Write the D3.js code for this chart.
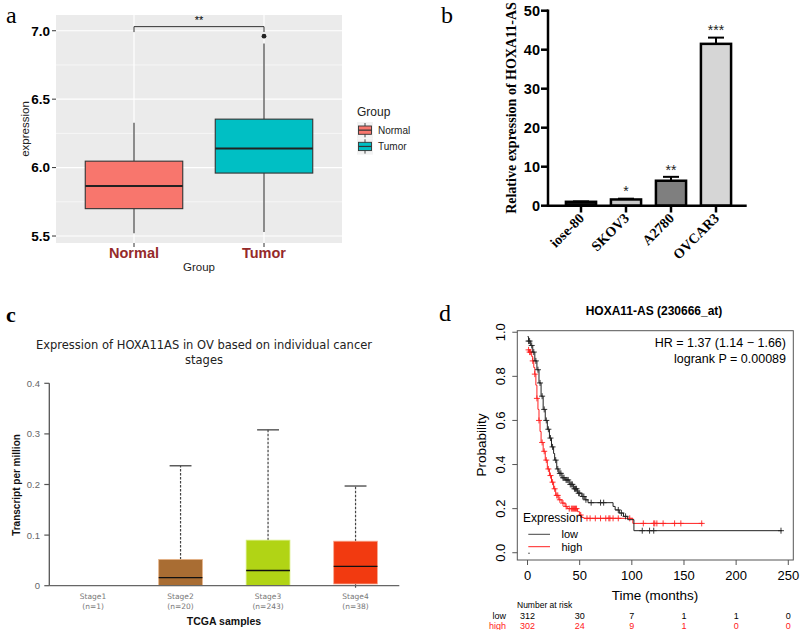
<!DOCTYPE html>
<html><head><meta charset="utf-8">
<script src="https://cdn.jsdelivr.net/npm/d3@7"></script>
<style>body{margin:0;background:#fff} svg{display:block}</style>
</head><body><svg id="fig" width="800" height="630"></svg>
<script>
// ================= DATA =================
// panel a : boxplot Normal vs Tumor
const aGroups = ["Normal", "Tumor"];
const aLower = [5.52, 5.53];
const aQ1 = [5.70, 5.96];
const aMedian = [5.865, 6.14];
const aQ3 = [6.047, 6.354];
const aUpper = [6.327, 6.906];
const aOutliers = [[], [6.96]];
const aColors = ["#F8766D", "#00BFC4"];
const aTicks = [5.5, 6.0, 6.5, 7.0];
const aMinor = [5.75, 6.25, 6.75];
const aSig = "**";

// panel b : bar chart, cell lines
const bCells = ["iose-80", "SKOV3", "A2780", "OVCAR3"];
const bMeans = [1.0, 1.6, 6.4, 41.5];
const bErrors = [0.1, 0.2, 1.0, 1.6];
const bStars = ["", "*", "**", "***"];
const bFills = ["#111111", "#c8c8c8", "#7f7f7f", "#d6d6d6"];
const bTicks = [0, 10, 20, 30, 40, 50];

// panel c : TCGA stages
const cStages = ["Stage1", "Stage2", "Stage3", "Stage4"];
const cCounts = ["(n=1)", "(n=20)", "(n=243)", "(n=38)"];
const cMin = [0, 0, 0, 0];
const cQ1 = [0, 0, 0, 0.0034];
const cMedian = [0, 0.0158, 0.030, 0.038];
const cQ3 = [0, 0.052, 0.090, 0.088];
const cMax = [0, 0.237, 0.308, 0.197];
const cColors = ["#999999", "#a96d33", "#b1d415", "#f23a10"];
const cBorders = ["#cccccc", "#e8b58a", "#d6ec7a", "#f8a890"];
const cTicks = [0, 0.1, 0.2, 0.3, 0.4];
const cTickLabels = ["0", "0.1", "0.2", "0.3", "0.4"];

// panel d : Kaplan-Meier
const kmLowTimes = [0,1,3,5,7,9,11,13,15,17,19,21,23,25,26,28,30,33,36,40,44,48,52,55,58,82,84,88,92,96,102,244];
const kmLowSurv  = [.98,.96,.94,.91,.87,.83,.77,.71,.65,.60,.56,.52,.48,.45,.42,.38,.36,.34,.33,.31,.29,.27,.255,.24,.227,.21,.194,.18,.165,.15,.10,.10];
const kmHighTimes = [0,2,4,5,6,7,8,9,10,11,12,13,15,17,19,21,23,25,27,30,33,36,38,48,50,52,54,101,168];
const kmHighSurv  = [.92,.91,.89,.87,.84,.81,.76,.70,.65,.60,.55,.50,.46,.42,.38,.35,.32,.29,.26,.24,.225,.21,.20,.186,.171,.16,.156,.133,.133];
const kmLowCensor = [1,2,4,6,8,10,12,14,16,18,20,22,24,27,29,31,32,34,35,37,38,39,41,42,43,45,46,47,49,50,53,54,56,61,70,73,87,90,94,110,117,121,243];
const kmHighCensor = [1,2,3,5,7,9,11,14,16,18,20,22,24,26,28,29,31,34,37,40,42,43,44,45,46,47,51,57,60,65,70,75,78,79,82,87,98,111,121,122,124,130,141,147,167];
const kmXTicks = [0, 50, 100, 150, 200, 250];
const kmYTicks = [0, 0.2, 0.4, 0.6, 0.8, 1.0];
const riskLow = [312, 30, 7, 1, 1, 0];
const riskHigh = [302, 24, 9, 1, 0, 0];

// ================= DRAW =================
const svg = d3.select("#fig");
const sans = "'Liberation Sans', Arial, Helvetica, sans-serif";
const serif = "'Liberation Serif', 'Times New Roman', serif";
const dejavu = "'DejaVu Sans', Verdana, sans-serif";
svg.append("rect").attr("width", 800).attr("height", 630).attr("fill", "#fff");

function label(txt, x, y, size, weight) {
  svg.append("text").attr("x", x).attr("y", y).text(txt)
    .attr("font-family", serif).attr("font-size", size).attr("font-weight", weight || "normal").attr("fill", "#000");
}
label("a", 6, 23, 24);
label("b", 441, 23, 24);
label("c", 6, 322, 22, "bold");
label("d", 439, 321, 24);

// ---------- panel a ----------
(function () {
  const g = svg.append("g");
  const L = 56, R = 342, T = 15, B = 243;
  const x = d3.scalePoint().domain(aGroups).range([L, R]).padding(0.6);
  const y = d3.scaleLinear().domain([5.449, 7.115]).range([B, T]);
  const bw = x.step() * 0.75;
  g.append("rect").attr("x", L).attr("y", T).attr("width", R - L).attr("height", B - T).attr("fill", "#ebebeb");
  g.selectAll(".mn").data(aMinor).join("line")
    .attr("x1", L).attr("x2", R).attr("y1", d => y(d)).attr("y2", d => y(d))
    .attr("stroke", "#fff").attr("stroke-width", 0.6);
  g.selectAll(".mj").data(aTicks).join("line")
    .attr("x1", L).attr("x2", R).attr("y1", d => y(d)).attr("y2", d => y(d))
    .attr("stroke", "#fff").attr("stroke-width", 1.2);
  g.selectAll(".vg").data(aGroups).join("line")
    .attr("x1", d => x(d)).attr("x2", d => x(d)).attr("y1", T).attr("y2", B)
    .attr("stroke", "#fff").attr("stroke-width", 1.2);
  aGroups.forEach((grp, i) => {
    const cx = x(grp);
    g.append("line").attr("x1", cx).attr("x2", cx).attr("y1", y(aLower[i])).attr("y2", y(aQ1[i])).attr("stroke", "#333").attr("stroke-width", 1.1);
    g.append("line").attr("x1", cx).attr("x2", cx).attr("y1", y(aQ3[i])).attr("y2", y(aUpper[i])).attr("stroke", "#333").attr("stroke-width", 1.1);
    g.append("rect").attr("x", cx - bw / 2).attr("y", y(aQ3[i])).attr("width", bw).attr("height", y(aQ1[i]) - y(aQ3[i]))
      .attr("fill", aColors[i]).attr("stroke", "#333").attr("stroke-width", 1.1);
    g.append("line").attr("x1", cx - bw / 2).attr("x2", cx + bw / 2).attr("y1", y(aMedian[i])).attr("y2", y(aMedian[i]))
      .attr("stroke", "#222").attr("stroke-width", 2);
    aOutliers[i].forEach(v => g.append("circle").attr("cx", cx).attr("cy", y(v)).attr("r", 2.4).attr("fill", "#222"));
  });
  // significance bracket
  const x1 = x(aGroups[0]), x2 = x(aGroups[1]);
  g.append("path").attr("d", `M${x1},${y(6.99)}V${y(7.03)}H${x2}V${y(6.99)}`).attr("fill", "none").attr("stroke", "#333").attr("stroke-width", 1);
  g.append("text").attr("x", (x1 + x2) / 2).attr("y", 24).attr("text-anchor", "middle").attr("font-family", sans).attr("font-size", 11).text(aSig);
  // y axis
  g.selectAll(".yt").data(aTicks).join("line").attr("x1", L - 4).attr("x2", L).attr("y1", d => y(d)).attr("y2", d => y(d)).attr("stroke", "#333");
  g.selectAll(".yl").data(aTicks).join("text").attr("x", L - 6).attr("y", d => y(d)).attr("dy", "0.36em")
    .attr("text-anchor", "end").attr("font-family", sans).attr("font-weight", "bold").attr("font-size", 13.5).attr("fill", "#000")
    .text(d => d3.format(".1f")(d));
  // x axis
  g.selectAll(".xt").data(aGroups).join("line").attr("x1", d => x(d)).attr("x2", d => x(d)).attr("y1", B).attr("y2", B + 4).attr("stroke", "#333");
  g.selectAll(".xl").data(aGroups).join("text").attr("x", d => x(d)).attr("y", 258)
    .attr("text-anchor", "middle").attr("font-family", sans).attr("font-weight", "bold").attr("font-size", 14.5).attr("fill", "#952a2a")
    .text(d => d);
  g.append("text").attr("x", (L + R) / 2).attr("y", 271).attr("text-anchor", "middle").attr("font-family", sans).attr("font-size", 11.5).attr("fill", "#222").text("Group");
  g.append("text").attr("transform", `translate(29,${(T + B) / 2}) rotate(-90)`).attr("text-anchor", "middle").attr("font-family", sans).attr("font-size", 11.5).attr("fill", "#222").text("expression");
  // legend
  g.append("text").attr("x", 357).attr("y", 116).attr("font-family", sans).attr("font-size", 12).attr("fill", "#222").text("Group");
  aGroups.forEach((grp, i) => {
    const y0 = 122 + i * 16.3;
    g.append("rect").attr("x", 357).attr("y", y0).attr("width", 16).attr("height", 16.3).attr("fill", "#f2f2f2");
    g.append("line").attr("x1", 365).attr("x2", 365).attr("y1", y0 + 1).attr("y2", y0 + 15.3).attr("stroke", "#333").attr("stroke-width", 0.9);
    g.append("rect").attr("x", 358.5).attr("y", y0 + 4).attr("width", 13).attr("height", 8.3).attr("fill", aColors[i]).attr("stroke", "#333").attr("stroke-width", 0.9);
    g.append("line").attr("x1", 358.5).attr("x2", 371.5).attr("y1", y0 + 8.15).attr("y2", y0 + 8.15).attr("stroke", "#333").attr("stroke-width", 1.2);
    g.append("text").attr("x", 378).attr("y", y0 + 8.15).attr("dy", "0.35em").attr("font-family", sans).attr("font-size", 10).attr("fill", "#222").text(grp);
  });
})();

// ---------- panel b ----------
(function () {
  const g = svg.append("g");
  const AX = 548;
  const x = d3.scaleBand().domain(bCells).range([558.5, 738.5]).paddingInner(0.33).paddingOuter(0.165);
  const y = d3.scaleLinear().domain([0, 50]).range([205.7, 10.7]);
  const bw = x.bandwidth();
  bCells.forEach((c, i) => {
    const cx = x(c) + bw / 2;
    const top = y(bMeans[i] + bErrors[i]);
    g.append("line").attr("x1", cx).attr("x2", cx).attr("y1", y(bMeans[i])).attr("y2", top).attr("stroke", "#000").attr("stroke-width", 2);
    g.append("line").attr("x1", cx - 8).attr("x2", cx + 8).attr("y1", top).attr("y2", top).attr("stroke", "#000").attr("stroke-width", 2);
    g.append("rect").attr("x", x(c)).attr("y", y(bMeans[i])).attr("width", bw).attr("height", y(0) - y(bMeans[i]))
      .attr("fill", bFills[i]).attr("stroke", "#000").attr("stroke-width", 2.5);
    if (bStars[i]) g.append("text").attr("x", cx).attr("y", top - 12).attr("dy", "0.7em").attr("text-anchor", "middle")
      .attr("font-family", sans).attr("font-size", 14).attr("fill", "#222").text(bStars[i]);
  });
  g.append("line").attr("x1", AX).attr("x2", AX).attr("y1", 9.5).attr("y2", 207).attr("stroke", "#000").attr("stroke-width", 2.5);
  g.append("line").attr("x1", AX - 1.2).attr("x2", 746.7).attr("y1", 205.7).attr("y2", 205.7).attr("stroke", "#000").attr("stroke-width", 2.5);
  g.selectAll(".yt").data(bTicks).join("line").attr("x1", AX - 7).attr("x2", AX).attr("y1", d => y(d)).attr("y2", d => y(d)).attr("stroke", "#000").attr("stroke-width", 2.5);
  g.selectAll(".yl").data(bTicks).join("text").attr("x", AX - 8).attr("y", d => y(d)).attr("dy", "0.36em").attr("text-anchor", "end")
    .attr("font-family", sans).attr("font-weight", "bold").attr("font-size", 14.5).attr("fill", "#000").text(d => d);
  g.selectAll(".xt").data(bCells).join("line").attr("x1", d => x(d) + bw / 2).attr("x2", d => x(d) + bw / 2).attr("y1", 205.7).attr("y2", 212.5).attr("stroke", "#000").attr("stroke-width", 2.5);
  g.selectAll(".xl").data(bCells).join("text")
    .attr("transform", d => `translate(${x(d) + bw / 2 + 4},${219}) rotate(-45)`).attr("text-anchor", "end")
    .attr("font-family", serif).attr("font-weight", "bold").attr("font-size", 14).attr("fill", "#000").text(d => d);
  g.append("text").attr("transform", `translate(516,108) rotate(-90)`).attr("text-anchor", "middle")
    .attr("font-family", serif).attr("font-weight", "bold").attr("font-size", 14).attr("fill", "#000").text("Relative expression of HOXA11-AS");
})();

// ---------- panel c ----------
(function () {
  const g = svg.append("g");
  const L = 49.3, R = 399.3, B = 585.7, T = 383.3;
  const x = d3.scaleBand().domain(cStages).range([L, R]).paddingInner(0.5).paddingOuter(0.25);
  const y = d3.scaleLinear().domain([0, 0.4]).range([B, T]);
  const bw = x.bandwidth();
  g.append("text").attr("x", 204).attr("y", 349).attr("text-anchor", "middle").attr("font-family", dejavu).attr("font-size", 11.5).attr("fill", "#222")
    .text("Expression of HOXA11AS in OV based on individual cancer");
  g.append("text").attr("x", 204).attr("y", 364).attr("text-anchor", "middle").attr("font-family", dejavu).attr("font-size", 11.5).attr("fill", "#222").text("stages");
  cStages.forEach((s, i) => {
    const cx = x(s) + bw / 2;
    if (cMax[i] > cQ3[i]) {
      g.append("line").attr("x1", cx).attr("x2", cx).attr("y1", y(cQ3[i])).attr("y2", y(cMax[i])).attr("stroke", "#444").attr("stroke-width", 1.2).attr("stroke-dasharray", "2.5,1.5");
      g.append("line").attr("x1", cx - bw / 4).attr("x2", cx + bw / 4).attr("y1", y(cMax[i])).attr("y2", y(cMax[i])).attr("stroke", "#444").attr("stroke-width", 1.3);
    }
    if (cQ1[i] > cMin[i]) {
      g.append("line").attr("x1", cx).attr("x2", cx).attr("y1", y(cQ1[i])).attr("y2", y(cMin[i]) + 2).attr("stroke", "#444").attr("stroke-width", 1.2);
    }
    if (cQ3[i] > cQ1[i]) {
      g.append("rect").attr("x", x(s)).attr("y", y(cQ3[i])).attr("width", bw).attr("height", y(cQ1[i]) - y(cQ3[i]))
        .attr("fill", cColors[i]).attr("stroke", cBorders[i]).attr("stroke-width", 0.8);
      g.append("line").attr("x1", x(s)).attr("x2", x(s) + bw).attr("y1", y(cMedian[i])).attr("y2", y(cMedian[i])).attr("stroke", "#111").attr("stroke-width", 1.3);
    }
    g.append("text").attr("x", cx).attr("y", 599).attr("text-anchor", "middle").attr("font-family", dejavu).attr("font-size", 7.5).attr("fill", "#777").text(s);
    g.append("text").attr("x", cx).attr("y", 608.5).attr("text-anchor", "middle").attr("font-family", dejavu).attr("font-size", 7.5).attr("fill", "#777").text(cCounts[i]);
  });
  g.append("line").attr("x1", L).attr("x2", L).attr("y1", T).attr("y2", B).attr("stroke", "#555").attr("stroke-width", 1.3);
  g.append("line").attr("x1", L).attr("x2", R).attr("y1", B).attr("y2", B).attr("stroke", "#666").attr("stroke-width", 1.3);
  g.selectAll(".yt").data(cTicks).join("line").attr("x1", L - 5).attr("x2", L).attr("y1", d => y(d)).attr("y2", d => y(d)).attr("stroke", "#555").attr("stroke-width", 1.2);
  g.selectAll(".yl").data(cTicks).join("text").attr("x", 40).attr("y", d => y(d)).attr("dy", "0.36em").attr("text-anchor", "end")
    .attr("font-family", sans).attr("font-size", 9.5).attr("fill", "#666").text((d, i) => cTickLabels[i]);
  g.append("text").attr("x", 224).attr("y", 625).attr("text-anchor", "middle").attr("font-family", sans).attr("font-weight", "bold").attr("font-size", 10.5).attr("fill", "#111").text("TCGA samples");
  g.append("text").attr("transform", `translate(20,485) rotate(-90)`).attr("text-anchor", "middle").attr("font-family", sans).attr("font-weight", "bold").attr("font-size", 10).attr("fill", "#111").text("Transcript per million");
})();

// ---------- panel d ----------
(function () {
  const g = svg.append("g");
  const L = 517.3, R = 793.3, T = 330.7, B = 560;
  const x = d3.scaleLinear().domain([-9.8, 254.8]).range([L, R]);
  const y = d3.scaleLinear().domain([-0.033, 1.007]).range([B, T]);
  g.append("text").attr("x", 654).attr("y", 315).attr("text-anchor", "middle").attr("font-family", sans).attr("font-weight", "bold").attr("font-size", 12).attr("fill", "#000").text("HOXA11-AS (230666_at)");
  g.append("rect").attr("x", L).attr("y", T).attr("width", R - L).attr("height", B - T).attr("fill", "none").attr("stroke", "#555").attr("stroke-width", 1);
  g.selectAll(".xt").data(kmXTicks).join("line").attr("x1", d => x(d)).attr("x2", d => x(d)).attr("y1", B).attr("y2", B + 5).attr("stroke", "#555");
  g.selectAll(".xl").data(kmXTicks).join("text").attr("x", d => x(d)).attr("y", 580).attr("text-anchor", "middle").attr("font-family", sans).attr("font-size", 13).attr("fill", "#000").text(d => d);
  g.selectAll(".yt").data(kmYTicks).join("line").attr("x1", L - 5).attr("x2", L).attr("y1", d => y(d)).attr("y2", d => y(d)).attr("stroke", "#555");
  g.selectAll(".yl").data(kmYTicks).join("text").attr("transform", d => `translate(505,${y(d)}) rotate(-90)`).attr("text-anchor", "middle")
    .attr("font-family", sans).attr("font-size", 13).attr("fill", "#000").text(d => d3.format(".1f")(d));
  g.append("text").attr("x", 655).attr("y", 600).attr("text-anchor", "middle").attr("font-family", sans).attr("font-size", 13.5).attr("fill", "#000").text("Time (months)");
  g.append("text").attr("transform", `translate(486,445) rotate(-90)`).attr("text-anchor", "middle").attr("font-family", sans).attr("font-size", 13.5).attr("fill", "#000").text("Probability");
  g.append("text").attr("x", 786).attr("y", 347).attr("text-anchor", "end").attr("font-family", sans).attr("font-size", 12.5).attr("fill", "#000").text("HR = 1.37 (1.14 \u2212 1.66)");
  g.append("text").attr("x", 786).attr("y", 363).attr("text-anchor", "end").attr("font-family", sans).attr("font-size", 12.5).attr("fill", "#000").text("logrank P = 0.00089");

  const line = d3.line().curve(d3.curveStepAfter).x(d => x(d[0])).y(d => y(d[1]));
  function surv(times, s, t) { return s[Math.max(0, d3.bisectRight(times, t) - 1)]; }
  const series = [
    { times: kmHighTimes, surv: kmHighSurv, cens: kmHighCensor, color: "#ff2020" },
    { times: kmLowTimes, surv: kmLowSurv, cens: kmLowCensor, color: "#222" }
  ];
  series.forEach(sr => {
    g.append("path").attr("d", line(sr.times.map((t, i) => [t, sr.surv[i]]))).attr("fill", "none").attr("stroke", sr.color).attr("stroke-width", 1);
    g.selectAll(null).data(sr.cens).join("path")
      .attr("d", t => { const px = x(t), py = y(surv(sr.times, sr.surv, t)); return `M${px - 3},${py}H${px + 3}M${px},${py - 3}V${py + 3}`; })
      .attr("stroke", sr.color).attr("stroke-width", 0.9).attr("fill", "none");
  });
  // legend
  g.append("text").attr("x", 523).attr("y", 521.5).attr("font-family", sans).attr("font-size", 12).attr("fill", "#000").text("Expression");
  g.append("line").attr("x1", 528.3).attr("x2", 550).attr("y1", 534.3).attr("y2", 534.3).attr("stroke", "#444").attr("stroke-width", 1);
  g.append("line").attr("x1", 528.3).attr("x2", 550).attr("y1", 546.7).attr("y2", 546.7).attr("stroke", "#ff2020").attr("stroke-width", 1);
  g.append("text").attr("x", 561.5).attr("y", 537.8).attr("font-family", sans).attr("font-size", 11).attr("fill", "#000").text("low");
  g.append("text").attr("x", 561.5).attr("y", 550.6).attr("font-family", sans).attr("font-size", 11).attr("fill", "#000").text("high");
  g.append("circle").attr("cx", 529).attr("cy", 553.3).attr("r", 0.7).attr("fill", "#333");
  // number at risk
  g.append("text").attr("x", 517).attr("y", 608).attr("font-family", sans).attr("font-size", 8.5).attr("fill", "#000").text("Number at risk");
  g.append("text").attr("x", 506).attr("y", 618.5).attr("text-anchor", "end").attr("font-family", sans).attr("font-size", 9).attr("fill", "#000").text("low");
  g.append("text").attr("x", 506).attr("y", 628.5).attr("text-anchor", "end").attr("font-family", sans).attr("font-size", 9).attr("fill", "#ff2020").text("high");
  g.selectAll(".rl").data(riskLow).join("text").attr("x", (d, i) => x(kmXTicks[i])).attr("y", 618.5).attr("text-anchor", "middle").attr("font-family", sans).attr("font-size", 9).attr("fill", "#000").text(d => d);
  g.selectAll(".rh").data(riskHigh).join("text").attr("x", (d, i) => x(kmXTicks[i])).attr("y", 628.5).attr("text-anchor", "middle").attr("font-family", sans).attr("font-size", 9).attr("fill", "#ff2020").text(d => d);
})();
</script></body></html>
